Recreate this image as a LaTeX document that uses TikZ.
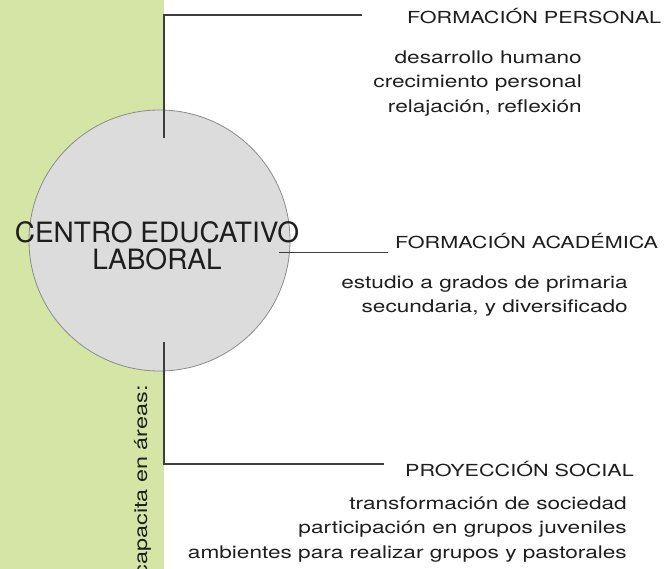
\documentclass[tikz,border=0pt]{standalone}
\usepackage{fontspec}
\setmainfont{TeX Gyre Heros}
\newfontfamily\widefont[FakeStretch=1.3]{TeX Gyre Heros}
\usepackage{tikz}
\definecolor{bandgreen}{RGB}{213,229,166}
\definecolor{discgray}{RGB}{220,220,220}
\definecolor{rimgray}{RGB}{140,140,140}
\definecolor{linegray}{RGB}{62,62,62}
\definecolor{inkgray}{RGB}{30,30,30}

\begin{document}
\begin{tikzpicture}[
  x=1pt, y=-1pt,
  every node/.style={inner sep=0pt, text=inkgray},
  area/.style={anchor=base west, font=\widefont\fontsize{16.6}{20}\selectfont},
  detail/.style={anchor=north east, align=right, font=\widefont\fontsize{17.4}{24.5}\selectfont},
  link/.style={draw=linegray, line width=1.2pt}
]
\useasboundingbox (0,0) rectangle (670,569);
\fill[bandgreen] (0,0) rectangle (164,569);

\node[circle, minimum size=261pt, fill=discgray, draw=rimgray, line width=0.8pt] (centro) at (159.5,240.5) {};
\node[align=center, font=\fontsize{28}{27}\selectfont] (centrolbl) at (157,246) {CENTRO EDUCATIVO\\LABORAL};

\node[rotate=90, anchor=base east, font=\widefont\fontsize{18}{20}\selectfont] (capacita) at (147,385) {capacita en áreas:};

% areas
\node[area] (personal) at (407,24) {FORMACIÓN PERSONAL};
\node[area] (academica) at (395,248.5) {FORMACIÓN ACADÉMICA};
\node[area] (social) at (405,476) {PROYECCIÓN SOCIAL};

\node[detail] (personaldet) at (582,50.4) {desarrollo humano\\crecimiento personal\\relajación, reflexión};
\node[detail] (academicadet) at (628,275.4) {estudio a grados de primaria\\secundaria, y diversificado};
\node[detail] (socialdet) at (627,496.2) {transformación de sociedad\\participación en grupos juveniles\\ambientes para realizar grupos y pastorales};

% connectors
\coordinate (pstart) at (164,138);
\coordinate (pend) at (362,15);
\coordinate (astart) at (279,252.5);
\coordinate (aend) at (388,252.5);
\coordinate (sstart) at (164,342);
\coordinate (send) at (384,464);
\draw[link] (pstart) |- (pend);
\draw[link] (astart) -- (aend);
\draw[link] (sstart) |- (send);
\end{tikzpicture}
\end{document}
